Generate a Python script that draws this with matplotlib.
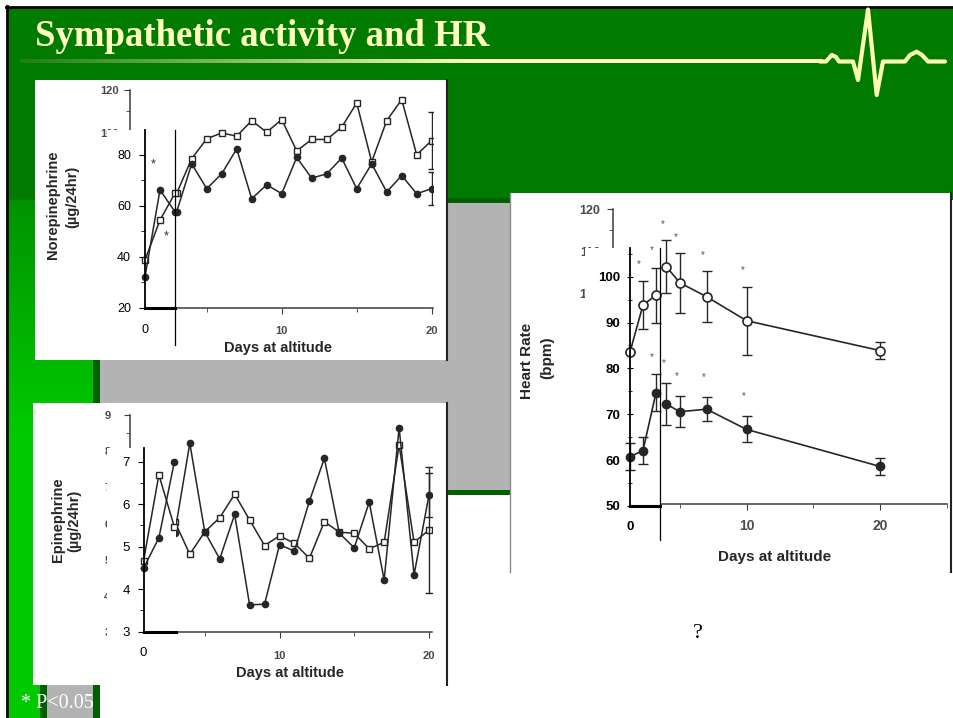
import numpy as np
import matplotlib.pyplot as plt
from matplotlib.patches import Rectangle
from matplotlib.ticker import MultipleLocator, FixedLocator

plt.rcParams['font.family'] = ['Liberation Sans', 'DejaVu Sans']

W, H = 954, 718

# norepinephrine (ug/24hr): original graph days 3-20, pasted inset days 0-2
ne_days = list(range(3, 21))
ne_square = [72.6, 88.4, 97.5, 100.2, 98.7, 105.8, 100.5, 106.3, 92.0, 97.2,
             97.2, 102.8, 113.9, 87.0, 105.8, 115.4, 90.2, 96.7]
ne_circle = [64.2, 86.1, 74.7, 81.5, 92.9, 70.1, 76.5, 72.4, 89.0, 79.5,
             81.5, 88.7, 74.7, 86.1, 73.2, 80.7, 72.4, 74.7]
ne_sd_square = 13.0
ne_sd_circle = 7.4
ne_in_days = [0, 1, 2]
ne_in_square = [38.7, 54.4, 64.9]
ne_in_circle = [32.2, 66.2, 57.6]

# epinephrine (ug/24hr)
ep_days = list(range(3, 21))
ep_square = [6.05, 5.15, 5.77, 6.16, 6.81, 6.10, 5.39, 5.66, 5.45, 5.04,
             6.05, 5.76, 5.73, 5.30, 5.48, 8.17, 5.48, 5.82]
ep_circle = [5.75, 8.22, 5.77, 5.02, 6.25, 3.75, 3.77, 5.41, 5.24, 6.62,
             7.80, 5.73, 5.33, 6.59, 4.44, 8.65, 4.58, 6.79]
ep_sd_square = 1.75
ep_sd_circle = 0.6
ep_in_days = [0, 1, 2]
ep_in_square = [4.66, 6.69, 5.47]
ep_in_circle = [4.49, 5.21, 6.99]

# heart rate (bpm)
hr_days = [4, 5, 7, 10, 20]
hr_open = [106.3, 102.5, 99.2, 93.5, 86.4]
hr_open_sd = [6.3, 7.1, 6.1, 8.1, 2.1]
hr_filled = [73.7, 71.9, 72.5, 67.7, 58.9]
hr_filled_sd = [5.0, 3.7, 2.9, 3.1, 2.0]
hr_open_sig = [1, 1, 1, 1, 0]
hr_filled_sig = [1, 1, 1, 1, 0]
hr_in_days = [0, 1, 2]
hr_in_open = [83.6, 93.8, 96.0]
hr_in_open_sd = [0, 5.3, 6.0]
hr_in_filled = [60.75, 62.1, 74.7]
hr_in_filled_sd = [3.0, 3.0, 4.0]
hr_in_open_sig = [0, 1, 1]
hr_in_filled_sig = [0, 0, 1]

GREEN = '#007b00'
DARKGREEN = '#005f00'
GRAY = '#b3b3b3'
YELLOW = '#ffffc0'
INK = '#262626'

ecg_x = [820, 826, 831.7, 836, 839, 853, 858, 868, 876.7, 883, 905, 910, 916.7, 922, 928, 945]
ecg_y = [61.5, 61.5, 55, 57, 61.5, 61.5, 80, 9.5, 95, 61.5, 61.5, 55, 51.7, 55, 61.5, 61.5]

fig = plt.figure(figsize=(W / 100, H / 100), dpi=100)
bg = fig.add_axes([0, 0, 1, 1], zorder=0)
bg.axis('off')

# slide background
bg.add_patch(Rectangle((8, 8), W - 8, 192, color=GREEN, lw=0))
rows = np.arange(80, H)
t = np.clip((rows - 110) / (430 - 110), 0, 1)
grad = np.zeros((len(rows), 1, 3))
grad[:, 0, 1] = 0.49 + t * (0.79 - 0.49)
bg.imshow(grad, extent=(8, 100, H, 80), aspect='auto', interpolation='bilinear', zorder=0)
bg.add_patch(Rectangle((93, 198), 417, 297, color=DARKGREEN, lw=0))
bg.add_patch(Rectangle((100, 203), 410, 287, color=GRAY, lw=0))
bg.add_patch(Rectangle((40, 640), 60, 80, color=DARKGREEN, lw=0))
bg.add_patch(Rectangle((47, 640), 46, 80, color=GRAY, lw=0))
bg.plot([7, 7], [6, H], color='black', lw=2)
bg.plot([6, W], [7, 7], color='black', lw=2)

# title, underline and heartbeat
bg.text(35, 46, 'Sympathetic activity and HR', family='Liberation Serif',
        weight='bold', fontsize=26.5, color=YELLOW, va='baseline')
ux = np.linspace(20, 822, 400)
mix = np.clip((ux - 20) / 460, 0, 1)[:, None]
band = (1 - mix) * np.array([0.12, 0.5, 0.08]) + mix * np.array([1, 1, 0.75])
bg.imshow(band[None, :, :], extent=(20, 822, 63.2, 59.8), aspect='auto',
          interpolation='bilinear', zorder=2)
bg.plot(ecg_x, ecg_y, color='#ffffb4', lw=3, solid_joinstyle='round',
        solid_capstyle='round', zorder=3)

# picture panels
for x0, y0, x1, y1 in [(35, 80, 447, 360), (33, 403, 447, 685), (510, 193, 951, 572)]:
    bg.add_patch(Rectangle((x0, y0), x1 - x0, y1 - y0, color='white', lw=0))
    bg.plot([x1, x1], [y0, y1], color='#222222', lw=1.5)
bg.plot([510, 510], [193, 572], color='#8a8a8a', lw=1)

bg.text(21, 708, '* P<0.05', family='Liberation Serif', fontsize=14.5,
        color='white', va='baseline')
bg.text(697.5, 638, '?', family='Liberation Serif', fontsize=16,
        ha='center', va='baseline')

# axis titles of the scanned graphs
lab = dict(weight='bold', color=INK, ha='center', va='center')
bg.text(278, 348, 'Days at altitude', fontsize=10.5, **lab)
bg.text(53, 205, 'Norepinephrine', fontsize=10.5, rotation=90, **lab)
bg.text(72, 197, '(µg/24hr)', fontsize=10.5, rotation=90, **lab)
bg.text(290, 673, 'Days at altitude', fontsize=10.5, **lab)
bg.text(58, 520, 'Epinephrine', fontsize=10.5, rotation=90, **lab)
bg.text(74, 521, '(µg/24hr)', fontsize=10.5, rotation=90, **lab)
bg.text(775, 557, 'Days at altitude', fontsize=11, **lab)
bg.text(527, 361, 'Heart Rate', fontsize=11, rotation=90, **lab)
bg.text(547, 358, '(bpm)', fontsize=11, rotation=90, **lab)

bg.set_xlim(0, W)
bg.set_ylim(H, 0)


def place(box, x_zero, px_x, y_ref, y_ref_px, px_y, z):
    x0, y0, x1, y1 = box
    ax = fig.add_axes([x0 / W, 1 - y1 / H, (x1 - x0) / W, (y1 - y0) / H], zorder=z)
    ax.set_xlim((x0 - x_zero) / px_x, (x1 - x_zero) / px_x)
    ax.set_ylim(y_ref - (y1 - y_ref_px) / px_y, y_ref + (y_ref_px - y0) / px_y)
    return ax


def outer_style(ax, yticks, ymin, xmaj, xmin, fs, ypad, xpad, xfs=None):
    ax.patch.set_visible(False)
    for s in ['top', 'right']:
        ax.spines[s].set_visible(False)
    for s in ['left', 'bottom']:
        ax.spines[s].set_color('#3c3c3c')
        ax.spines[s].set_linewidth(1.1)
    ax.set_yticks(yticks)
    ax.yaxis.set_minor_locator(MultipleLocator(ymin))
    ax.set_xticks(xmaj)
    ax.set_xticks(xmin, minor=True)
    ax.tick_params(which='both', direction='out', color='#3c3c3c', labelcolor='#4a4a4a')
    ax.tick_params(which='major', length=4)
    ax.tick_params(which='minor', length=3)
    ax.tick_params(axis='y', labelsize=fs, pad=ypad)
    ax.tick_params(axis='x', labelsize=xfs or fs, pad=xpad)
    for t in ax.get_xticklabels() + ax.get_yticklabels():
        t.set_fontweight('bold')


def inset_style(ax, ybase, xright, yticks, ymin, right_line, fs, weight, ypad, xpad):
    ytop = ax.get_ylim()[1]
    ax.set_facecolor('white')
    ax.spines['top'].set_visible(False)
    ax.spines['right'].set_visible(right_line)
    ax.spines['right'].set_linewidth(0.9)
    ax.spines['left'].set_position(('data', 0))
    ax.spines['left'].set_bounds(ybase, ytop)
    ax.spines['left'].set_linewidth(1.3)
    ax.spines['bottom'].set_position(('data', ybase))
    ax.spines['bottom'].set_bounds(0, xright)
    ax.spines['bottom'].set_linewidth(2.2)
    ax.set_yticks(yticks)
    minors = [v for v in np.arange(ybase, ytop, ymin) if v not in list(yticks)]
    ax.yaxis.set_minor_locator(FixedLocator(minors))
    ax.set_xticks([0])
    ax.tick_params(axis='y', which='both', direction='out', color='black', labelsize=fs, pad=ypad)
    ax.tick_params(axis='y', which='major', length=4)
    ax.tick_params(axis='y', which='minor', length=3)
    ax.tick_params(axis='x', length=0, labelsize=fs, pad=xpad)
    for t in ax.get_xticklabels() + ax.get_yticklabels():
        t.set_fontweight(weight)


sq = dict(marker='s', ms=5, mfc='white', mec=INK, mew=1, color=INK, lw=1.1)
dot = dict(marker='o', ms=4.5, mfc=INK, mec=INK, color=INK, lw=1.1)
star = dict(textcoords='offset pixels', ha='center', va='center', fontsize=9,
            color=INK, annotation_clip=False)

# ---- norepinephrine ----
ax1 = place((130, 89.6, 433, 308.3), 131.7, 15, 20, 308.3, 2.1875, 1)
ax1.plot(ne_days, ne_square, **sq)
ax1.plot(ne_days, ne_circle, **dot)
ax1.errorbar(ne_days[-1], ne_square[-1], yerr=ne_sd_square, fmt='none', ecolor=INK, elinewidth=1, capsize=3)
ax1.errorbar(ne_days[-1], ne_circle[-1], yerr=ne_sd_circle, fmt='none', ecolor=INK, elinewidth=1, capsize=3)
outer_style(ax1, range(20, 121, 20), 10, [0, 10, 20], [5, 15], 8, 4, 9)

in1 = place((107, 130, 175, 345), 145, 15, 20, 307.7, 2.55, 2)
in1.plot(ne_in_days, ne_in_square, clip_on=False, **sq)
in1.plot(ne_in_days, ne_in_circle, clip_on=False, **dot)
in1.annotate('*', (ne_in_days[1], ne_in_circle[1]), xytext=(-7, 25), **star)
in1.annotate('*', (ne_in_days[1], ne_in_square[1]), xytext=(6, -16), **star)
inset_style(in1, 20, 2, [20, 40, 60, 80], 10, True, 9, 'normal', 6, 12)

# ---- epinephrine ----
ax2 = place((130, 415, 432, 632), 128, 15.05, 3, 632, 36.17, 1)
ax2.plot(ep_days, ep_square, **sq)
ax2.plot(ep_days, ep_circle, **dot)
ax2.errorbar(ep_days[-1], ep_square[-1], yerr=ep_sd_square, fmt='none', ecolor=INK, elinewidth=1, capsize=3)
ax2.errorbar(ep_days[-1], ep_circle[-1], yerr=ep_sd_circle, fmt='none', ecolor=INK, elinewidth=1, capsize=3)
outer_style(ax2, range(3, 10), 0.5, [0, 10, 20], [5, 15], 8, 10, 9.5)

in2 = place((107, 448, 175.7, 663), 143.5, 15.4, 3, 631.7, 42.5, 2)
in2.plot(ep_in_days, ep_in_square, clip_on=False, **sq)
in2.plot(ep_in_days, ep_in_circle, clip_on=False, **dot)
inset_style(in2, 3, 2.09, [3, 4, 5, 6, 7], 0.5, False, 9.5, 'normal', 6, 11)

# ---- heart rate ----
op = dict(marker='o', ms=6.5, mfc='white', mec=INK, mew=1.2, color=INK, lw=1.2)
fl = dict(marker='o', ms=6, mfc=INK, mec=INK, color=INK, lw=1.2)
eb = dict(fmt='none', ecolor=INK, elinewidth=1, capsize=3.5, capthick=1)
hstar = dict(textcoords='offset pixels', ha='center', va='center', fontsize=7,
             color='#555555', annotation_clip=False)

ax3 = place((613, 209, 947, 504), 612, 13.5, 50, 504, 4.214, 1)
ax3.errorbar(hr_days, hr_open, yerr=hr_open_sd, **eb)
ax3.errorbar(hr_days, hr_filled, yerr=hr_filled_sd, **eb)
ax3.plot(hr_days, hr_open, **op)
ax3.plot(hr_days, hr_filled, **fl)
for d, v, e, s in zip(hr_days, hr_open, hr_open_sd, hr_open_sig):
    if s:
        ax3.annotate('*', (d, v + e), xytext=(-4, 16), **hstar)
for d, v, e, s in zip(hr_days, hr_filled, hr_filled_sd, hr_filled_sig):
    if s:
        ax3.annotate('*', (d, v + e), xytext=(-3, 20), **hstar)
outer_style(ax3, range(50, 121, 10), 5, [0, 10, 20], [5, 15, 25], 9, 5, 7, xfs=10)

in3 = place((585, 248, 660, 540), 630, 13, 50, 506, 4.586, 2)
in3.errorbar(hr_in_days, hr_in_open, yerr=hr_in_open_sd, clip_on=False, **eb)
in3.errorbar(hr_in_days, hr_in_filled, yerr=hr_in_filled_sd, clip_on=False, **eb)
in3.plot(hr_in_days, hr_in_open, clip_on=False, **op)
in3.plot(hr_in_days, hr_in_filled, clip_on=False, **fl)
for d, v, e, s in zip(hr_in_days, hr_in_open, hr_in_open_sd, hr_in_open_sig):
    if s:
        in3.annotate('*', (d, v + e), xytext=(-4, 17), **hstar)
for d, v, e, s in zip(hr_in_days, hr_in_filled, hr_in_filled_sd, hr_in_filled_sig):
    if s:
        in3.annotate('*', (d, v + e), xytext=(-4, 17), **hstar)
inset_style(in3, 50, 2.31, range(50, 101, 10), 5, True, 9.5, 'bold', 5, 11)
in3.tick_params(axis='y', which='both', direction='inout')

fig.savefig('out.png', dpi=100)
